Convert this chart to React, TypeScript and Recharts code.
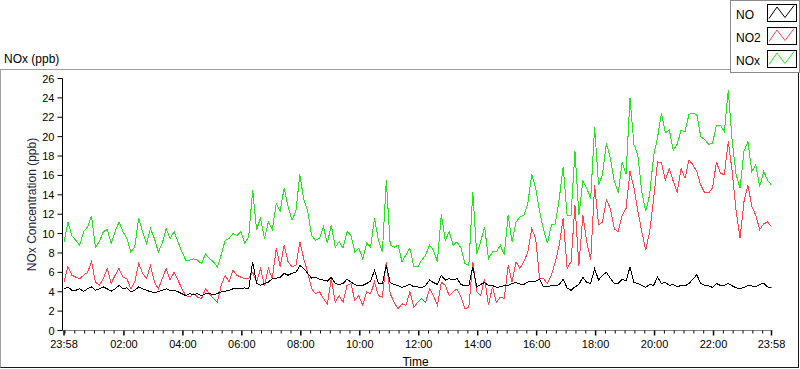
import React from "react";
import { LineChart, Line, XAxis, YAxis } from "recharts";

// Sampled every 8 minutes from 23:58 (t = 0) to 23:58 next day (t = 1440)
const SAMPLE_MINUTES = 8;

const NO = [
  4.3,4.5,4.15,4.15,4.3,4.05,4.3,4.5,4.15,4.3, 4.5,4.3,4.05,4.3,4.65,4.3,4.4,4.0,4.15,4.5,
  4.3,4.15,4.0,3.9,4.0,4.15,4.3,4.15,4.15,4.0, 3.8,3.6,3.8,3.7,3.8,3.6,3.8,3.8,3.7,3.8,
  4.0,4.05,4.15,4.3,4.3,
  4.3,4.4,4.3,7.1,4.85,4.65,4.85,5.0,5.35,5.4, 5.5,5.9,5.7,5.9,6.0,6.7,6.4,5.9,5.4,5.5,
  5.3,5.2,5.1,5.5,4.85,4.75,4.85,5.3,5.0,4.75, 4.6,4.65,4.85,5.1,6.2,4.85,4.85,6.7,4.95,4.75,
  4.65,4.45,4.6,4.75,4.5,
  4.5,4.4,4.65,5.2,4.95,4.75,5.7,5.2,5.35,5.2, 5.35,4.75,4.6,4.65,6.55,4.5,4.75,4.95,4.65,4.65,
  4.45,4.5,4.65,4.65,4.85,4.95,4.8,4.75,5.0,5.1, 5.1,5.3,4.5,4.5,4.65,4.6,4.75,5.3,4.4,4.15,
  4.5,4.75,5.5,4.95,4.85,
  6.4,5.2,5.7,6.0,5.4,4.85,4.85,5.3,5.1,6.55, 4.95,4.85,4.65,4.45,4.75,4.65,5.5,4.85,4.95,4.65,
  4.75,4.5,4.65,4.6,4.85,5.3,5.75,4.85,4.65,4.6, 4.45,4.85,4.65,4.65,4.85,4.6,4.4,4.3,4.45,4.65,
  4.6,4.5,4.75,4.9,4.5,4.4,
];

const NO2 = [
  5.0,6.6,5.7,5.5,5.35,5.7,6.0,7.1,5.0,4.65, 5.35,6.4,4.85,5.7,6.4,5.5,5.35,4.3,5.0,6.9,
  5.9,5.35,6.7,5.0,4.3,5.35,6.4,5.2,6.0,5.2, 4.3,3.6,3.45,3.8,3.45,3.3,4.3,3.8,3.3,2.9,
  4.65,5.7,5.0,6.2,5.7,
  5.5,5.35,5.35,6.0,5.0,6.4,4.65,6.4,5.35,8.5, 6.6,8.8,7.1,6.6,6.7,9.15,7.4,6.0,4.3,3.8,
  4.0,3.3,2.75,5.35,2.9,3.6,2.9,4.65,4.85,3.1, 3.6,2.6,4.0,3.8,5.0,3.6,3.45,7.1,3.8,2.9,
  2.25,2.75,2.6,4.0,2.4,
  2.9,3.3,2.9,4.3,3.6,2.6,5.0,4.65,3.6,4.0, 4.3,3.45,2.25,2.4,7.1,4.0,3.6,5.35,2.6,4.5,
  2.9,3.45,3.3,6.7,5.0,7.1,6.4,7.1,8.1,10.5, 9.5,5.35,5.35,4.85,5.7,7.1,8.8,11.6,6.4,7.1,
  12.9,6.7,11.9,9.15,7.25,
  15.0,10.9,11.2,13.5,12.6,10.5,10.2,11.9,12.6,16.4, 14.7,12.3,10.2,8.3,10.2,13.5,17.4,17.3,15.5,16.7,
  15.4,14.3,16.7,15.7,17.6,17.1,16.4,15.0,14.2,14.2, 14.7,17.4,16.2,16.1,19.5,16.4,12.3,9.5,13.3,15.0,
  12.8,11.9,10.4,11.0,11.2,10.7,
];

const NOX = [
  9.15,11.2,9.8,9.3,8.8,10.2,10.7,11.8,8.6,9.15, 10.2,10.4,9.0,10.2,11.2,10.2,9.5,8.1,8.6,11.6,
  10.2,9.0,10.5,9.5,8.1,9.0,10.5,9.5,10.2,9.15, 8.1,7.25,7.25,7.4,7.25,6.9,7.9,7.4,7.1,6.55,
  7.8,9.3,9.5,10.0,9.8,
  10.2,9.0,9.7,14.5,10.4,11.6,9.5,11.2,10.4,13.1, 12.3,14.7,12.8,11.4,12.3,16.1,13.5,12.3,9.8,9.3,
  9.5,10.7,9.0,10.9,8.6,9.15,8.5,10.2,9.8,8.1, 8.5,7.4,9.0,8.6,11.6,9.3,8.1,15.5,8.8,8.6,
  8.8,7.1,7.8,8.5,6.6,
  6.55,7.25,7.8,8.8,8.3,7.1,12.0,9.3,10.2,8.8, 9.15,8.5,6.9,6.7,14.3,7.9,9.15,10.7,7.4,8.1,
  8.1,8.8,7.8,11.9,9.15,11.2,11.7,11.9,13.1,16.1, 14.7,12.3,10.4,9.0,10.9,11.0,13.6,16.9,11.9,11.9,
  18.5,11.9,15.4,14.7,13.6,
  21.0,15.0,16.1,19.3,17.8,15.4,14.2,17.4,16.1,24.0, 19.2,18.1,14.3,12.3,14.0,18.0,19.9,22.4,20.4,20.7,
  18.6,19.2,20.7,20.5,22.3,22.4,22.3,20.0,19.7,19.2, 19.3,21.2,21.2,20.5,24.8,19.5,16.1,14.7,18.5,19.5,
  16.4,17.1,14.85,16.4,15.5,15.0,
];

const X_TICK_MINUTES = [0, 122, 242, 362, 482, 602, 722, 842, 962, 1082, 1202, 1322, 1440];
const X_TICK_LABELS = ["23:58", "02:00", "04:00", "06:00", "08:00", "10:00", "12:00", "14:00", "16:00", "18:00", "20:00", "22:00", "23:58"];
const Y_TICKS = [0, 2, 4, 6, 8, 10, 12, 14, 16, 18, 20, 22, 24, 26];

const SERIES = [
  { key: "no", name: "NO", color: "#000000" },
  { key: "no2", name: "NO2", color: "#ff4545" },
  { key: "nox", name: "NOx", color: "#22e61a" },
];

const data = NO.map((v, i) => ({ t: i * SAMPLE_MINUTES, no: v, no2: NO2[i], nox: NOX[i] }));

const minorTicks: number[] = [];
for (let m = 2; m < 1440; m += 20) {
  if (!X_TICK_MINUTES.includes(m)) minorTicks.push(m);
}
const allXTicks = [...X_TICK_MINUTES, ...minorTicks].sort((a, b) => a - b);

const FONT = "'Liberation Sans', Arial, sans-serif";

const XTick = (props: any) => {
  const { x, y, payload } = props;
  const idx = X_TICK_MINUTES.indexOf(payload.value);
  if (idx < 0) {
    return <line x1={x} x2={x} y1={y} y2={y + 3} stroke="#000" />;
  }
  return (
    <g>
      <line x1={x} x2={x} y1={y} y2={y + 5} stroke="#000" strokeWidth={1.5} />
      <text x={x} y={y + 17.5} textAnchor="middle" fontSize={11} fill="#000" fontFamily={FONT}>
        {X_TICK_LABELS[idx]}
      </text>
    </g>
  );
};

const YTick = (props: any) => {
  const { x, y, payload } = props;
  return (
    <g>
      <line x1={x - 5} x2={x} y1={y} y2={y} stroke="#000" />
      <text x={x - 8} y={y + 4} textAnchor="end" fontSize={11} fill="#000" fontFamily={FONT}>
        {payload.value}
      </text>
    </g>
  );
};

const YLabel = (props: any) => {
  const vb = props.viewBox || { x: 0, y: 78.5, width: 62.5, height: 252 };
  const cx = 36;
  const cy = vb.y + vb.height / 2;
  return (
    <text x={cx} y={cy} transform={`rotate(-90, ${cx}, ${cy})`} textAnchor="middle" fontSize={12} fill="#1c2340" fontFamily={FONT}>
      NOx Concentration (ppb)
    </text>
  );
};

const XLabel = (props: any) => {
  const vb = props.viewBox || { x: 62.5, y: 330.5, width: 710, height: 30 };
  return (
    <text x={vb.x + vb.width / 2 - 2} y={vb.y + 35} textAnchor="middle" fontSize={12} fill="#000" fontFamily={FONT}>
      Time
    </text>
  );
};

const LegendIcon = ({ color }: { color: string }) => (
  <svg width={30} height={18} style={{ display: "block" }}>
    <rect x={0.5} y={0.5} width={29} height={17} fill="#fff" stroke="#000" />
    <polyline points="2,14.5 10,3 18,13.5 27,1.5" fill="none" stroke={color} strokeWidth={1} />
  </svg>
);

export default function App() {
  return (
    <div style={{ position: "absolute", left: 0, top: 0, width: 800, height: 369, background: "#fff", fontFamily: FONT }}>
      {/* outer frame */}
      <div
        style={{
          position: "absolute",
          left: 0,
          top: 69,
          width: 799,
          height: 299,
          boxSizing: "border-box",
          borderTop: "1px solid #a0a0a0",
          borderLeft: "1px solid #a0a0a0",
          borderRight: "1px solid #1a1a1a",
          borderBottom: "1px solid #1a1a1a",
        }}
      />
      <div style={{ position: "absolute", left: 4, top: 52, fontSize: 12, lineHeight: "14px", color: "#000", whiteSpace: "nowrap" }}>
        NOx (ppb)
      </div>
      <div style={{ position: "absolute", left: 0, top: 0 }}>
        <LineChart
          width={800}
          height={369}
          data={data}
          margin={{ top: 78.5, right: 27.5, bottom: 8.5, left: 0 }}
        >
          <XAxis
            xAxisId="b"
            dataKey="t"
            type="number"
            domain={[0, 1440]}
            ticks={allXTicks}
            interval={0}
            tick={<XTick />}
            tickLine={false}
            tickSize={0}
            tickMargin={0}
            height={30}
            padding={{ left: 1.5, right: 1 }}
            axisLine={{ stroke: "#808080" }}
            label={<XLabel />}
            allowDataOverflow
          />
          <XAxis
            xAxisId="top"
            orientation="top"
            dataKey="t"
            type="number"
            domain={[0, 1440]}
            tick={false}
            tickLine={false}
            height={0}
            axisLine={{ stroke: "#000" }}
          />
          <YAxis
            yAxisId="l"
            type="number"
            domain={[0, 26]}
            ticks={Y_TICKS}
            interval={0}
            tick={<YTick />}
            tickLine={false}
            tickSize={0}
            tickMargin={0}
            width={62.5}
            axisLine={{ stroke: "#000" }}
            label={<YLabel />}
            allowDataOverflow
          />
          <YAxis
            yAxisId="r"
            orientation="right"
            type="number"
            domain={[0, 26]}
            tick={false}
            tickLine={false}
            width={0}
            axisLine={{ stroke: "#909090" }}
          />
          {[SERIES[2], SERIES[1], SERIES[0]].map((s) => (
            <Line
              key={s.key}
              xAxisId="b"
              yAxisId="l"
              type="linear"
              dataKey={s.key}
              name={s.name}
              stroke={s.color}
              strokeWidth={1}
              dot={false}
              activeDot={false}
              isAnimationActive={false}
              shapeRendering="crispEdges"
            />
          ))}
        </LineChart>
      </div>
      {/* legend */}
      <div
        style={{
          position: "absolute",
          left: 730,
          top: 0,
          width: 70,
          height: 73,
          boxSizing: "border-box",
          border: "1px solid #8a8a8a",
          background: "#fff",
        }}
      >
        {SERIES.map((s, i) => (
          <div key={s.key} style={{ position: "absolute", left: 0, top: 3 + i * 23, width: 68, height: 18 }}>
            <div style={{ position: "absolute", left: 5, top: 3.5, fontSize: 12, lineHeight: "14px", color: "#000" }}>{s.name}</div>
            <div style={{ position: "absolute", left: 36, top: 0 }}>
              <LegendIcon color={s.color} />
            </div>
          </div>
        ))}
      </div>
    </div>
  );
}
